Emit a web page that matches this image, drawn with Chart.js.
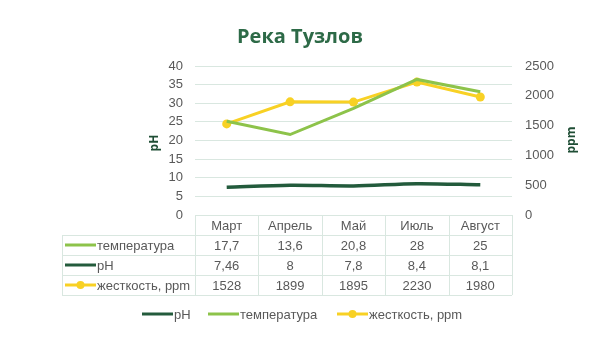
<!DOCTYPE html>
<html>
<head>
<meta charset="utf-8">
<script src="https://cdn.jsdelivr.net/npm/chart.js@4.4.0/dist/chart.umd.min.js"></script>
<style>
  html, body { margin: 0; background: #fff; }
  #wrap { width: 600px; height: 350px; }
</style>
</head>
<body>
<div id="wrap"><canvas id="c"></canvas></div>
<script>
const months = ['Март', 'Апрель', 'Май', 'Июль', 'Август'];
const temperatura = [17.7, 13.6, 20.8, 28, 25];
const ph = [7.46, 8, 7.8, 8.4, 8.1];
const zhestkost = [1528, 1899, 1895, 2230, 1980];

const cTemp = '#8dc34a';
const cPh = '#235b3c';
const cHard = '#f8d124';
const cGrid = '#d9e7e0';
const cText = '#595959';
const fontName = '"Liberation Sans", Arial, sans-serif';

// строки таблицы под графиком (порядок как в Excel)
const tableRows = [
  { name: 'температура', values: temperatura, color: cTemp, dot: false },
  { name: 'pH', values: ph, color: cPh, dot: false },
  { name: 'жесткость, ppm', values: zhestkost, color: cHard, dot: true }
];
const legendItems = [
  { name: 'pH', color: cPh, dot: false, x: 142 },
  { name: 'температура', color: cTemp, dot: false, x: 208 },
  { name: 'жесткость, ppm', color: cHard, dot: true, x: 337 }
];

function fmt(v) {
  return String(v).replace('.', ',');
}

function drawKey(ctx, x, y, item) {
  ctx.save();
  ctx.strokeStyle = item.color;
  ctx.lineWidth = 3;
  ctx.beginPath();
  ctx.moveTo(x, y);
  ctx.lineTo(x + 31, y);
  ctx.stroke();
  if (item.dot) {
    ctx.fillStyle = item.color;
    ctx.beginPath();
    ctx.arc(x + 15.5, y, 4, 0, Math.PI * 2);
    ctx.fill();
  }
  ctx.restore();
}

const extras = {
  id: 'extras',
  afterDraw(chart) {
    const ctx = chart.ctx;
    const area = chart.chartArea;
    const x = chart.scales.x;
    const colW = (area.right - area.left) / months.length;
    const tableLeft = 62;
    const rowH = 20;
    const top = area.bottom;

    ctx.save();
    // заголовок
    ctx.fillStyle = '#2d6a47';
    ctx.font = 'bold 20px "Open Sans", sans-serif';
    ctx.textAlign = 'center';
    ctx.textBaseline = 'middle';
    ctx.fillText('Река Тузлов', 300, 37);

    // подписи осей
    ctx.font = 'bold 12px "Open Sans", sans-serif';
    ctx.fillStyle = '#1f4e35';
    [['pH', 155, 143], ['ppm', 572, 140]].forEach(([t, tx, ty]) => {
      ctx.save();
      ctx.translate(tx, ty);
      ctx.rotate(-Math.PI / 2);
      ctx.fillText(t, 0, 0);
      ctx.restore();
    });

    // сетка таблицы
    ctx.strokeStyle = cGrid;
    ctx.lineWidth = 1;
    ctx.beginPath();
    ctx.moveTo(area.left, top + 0.5);
    ctx.lineTo(area.right, top + 0.5);
    for (let r = 1; r <= tableRows.length + 1; r++) {
      const yy = Math.round(top + r * rowH) + 0.5;
      ctx.moveTo(tableLeft, yy);
      ctx.lineTo(area.right, yy);
    }
    ctx.moveTo(tableLeft + 0.5, top + rowH);
    ctx.lineTo(tableLeft + 0.5, top + rowH * (tableRows.length + 1));
    for (let i = 0; i <= months.length; i++) {
      const xx = Math.round(area.left + i * colW) + 0.5;
      ctx.moveTo(xx, top);
      ctx.lineTo(xx, top + rowH * (tableRows.length + 1));
    }
    ctx.stroke();

    // текст таблицы
    ctx.font = '13px ' + fontName;
    ctx.fillStyle = cText;
    ctx.textAlign = 'center';
    months.forEach((m, i) => {
      ctx.fillText(m, x.getPixelForValue(i), top + rowH / 2 + 1);
    });
    tableRows.forEach((row, r) => {
      const cy = top + rowH * (r + 1.5) + 1;
      drawKey(ctx, 65, cy - 1, row);
      ctx.textAlign = 'left';
      ctx.fillStyle = cText;
      ctx.fillText(row.name, 97, cy);
      ctx.textAlign = 'center';
      row.values.forEach((v, i) => {
        ctx.fillText(fmt(v), x.getPixelForValue(i), cy);
      });
    });

    // легенда
    ctx.textAlign = 'left';
    legendItems.forEach(it => {
      drawKey(ctx, it.x, 314, it);
      ctx.fillStyle = cText;
      ctx.fillText(it.name, it.x + 32, 315);
    });
    ctx.restore();
  }
};

new Chart(document.getElementById('c'), {
  type: 'line',
  data: {
    labels: months,
    datasets: [
      {
        label: 'pH',
        data: ph,
        yAxisID: 'y',
        borderColor: cPh,
        backgroundColor: cPh,
        borderWidth: 3.5,
        pointRadius: 0,
        tension: 0.3,
        fill: false
      },
      {
        label: 'температура',
        data: temperatura,
        yAxisID: 'y',
        borderColor: cTemp,
        backgroundColor: cTemp,
        borderWidth: 3,
        pointRadius: 0,
        tension: 0,
        fill: false
      },
      {
        label: 'жесткость, ppm',
        data: zhestkost,
        yAxisID: 'y1',
        borderColor: cHard,
        backgroundColor: cHard,
        borderWidth: 3,
        pointRadius: 4.5,
        pointBorderWidth: 0,
        tension: 0,
        fill: false
      }
    ]
  },
  options: {
    responsive: true,
    maintainAspectRatio: false,
    animation: false,
    layout: { padding: { left: 140, right: 0, top: 66, bottom: 135 } },
    plugins: {
      legend: { display: false },
      title: { display: false },
      tooltip: { enabled: false }
    },
    scales: {
      x: {
        display: false,
        offset: true
      },
      y: {
        position: 'left',
        stacked: true,
        min: 0,
        max: 40,
        ticks: { stepSize: 5, padding: 12, color: cText, font: { size: 13, family: fontName } },
        grid: { color: cGrid, drawTicks: false },
        border: { display: false },
        afterFit(scale) { scale.width = 55; }
      },
      y1: {
        position: 'right',
        min: 0,
        max: 2500,
        ticks: {
          stepSize: 500,
          padding: 13,
          color: cText,
          font: { size: 13, family: fontName },
          callback: v => String(v)
        },
        grid: { display: false, drawTicks: false },
        border: { display: false },
        afterFit(scale) { scale.width = 88; }
      }
    }
  },
  plugins: [extras]
});
</script>
</body>
</html>
